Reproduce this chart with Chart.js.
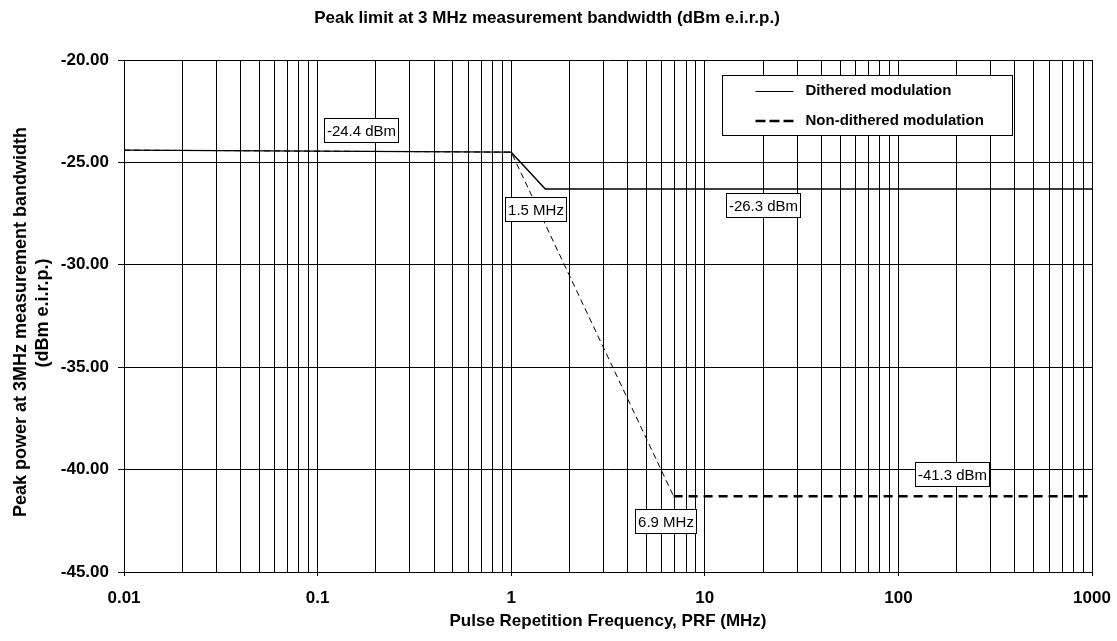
<!DOCTYPE html>
<html>
<head>
<meta charset="utf-8">
<script src="https://cdn.jsdelivr.net/npm/chart.js@4/dist/chart.umd.min.js"></script>
<style>
  html, body { margin: 0; padding: 0; background: #fff; }
  #c { display: block; }
</style>
</head>
<body>
<canvas id="c" width="1117" height="641"></canvas>
<script>
// ---- data ----
const prfDithered = [0.01, 1, 1.5, 1000];
const peakDithered = [-24.4, -24.5, -26.3, -26.3];
const prfNonDithered = [0.01, 1, 6.9, 1000];
const peakNonDithered = [-24.4, -24.5, -41.3, -41.3];

const xMajorTicks = [0.01, 0.1, 1, 10, 100, 1000];
const xTickLabels = ['0.01', '0.1', '1', '10', '100', '1000'];
const yTicks = [-45, -40, -35, -30, -25, -20];

const seriesLabels = ['Dithered modulation', 'Non-dithered modulation'];
const chartTitle = 'Peak limit at 3 MHz measurement bandwidth (dBm e.i.r.p.)';
const xTitle = 'Pulse Repetition Frequency, PRF (MHz)';
const yTitleLines = ['Peak power at 3MHz measurement bandwidth', '(dBm e.i.r.p.)'];

// callouts: text, anchored at data coordinates (x = PRF, y = dBm)
const calloutTexts = ['-24.4 dBm', '1.5 MHz', '-26.3 dBm', '6.9 MHz', '-41.3 dBm'];
const calloutX = [0.1675, 1.335, 19.9, 6.30, 189];
const calloutY = [-23.42, -27.28, -27.10, -42.49, -40.21];

// ---- build ticks ----
const xAllTicks = [];
xMajorTicks.forEach((m, i) => {
  xAllTicks.push({ value: m, major: true, label: xTickLabels[i] });
  if (i < xMajorTicks.length - 1) {
    for (let k = 2; k <= 9; k++) xAllTicks.push({ value: m * k, major: false, label: '' });
  }
});

const FONT = "'Liberation Sans', Arial, Helvetica, sans-serif";

const overlay = {
  id: 'overlay',
  afterDraw(chart) {
    const ctx = chart.ctx;
    const xs = chart.scales.x, ys = chart.scales.y;
    const area = chart.chartArea;
    ctx.save();
    ctx.fillStyle = '#000';
    // Title
    ctx.font = 'bold 17px ' + FONT;
    ctx.textAlign = 'center';
    ctx.textBaseline = 'middle';
    ctx.fillText(chartTitle, 547, 18);
    // X title
    ctx.fillText(xTitle, (area.left + area.right) / 2, 621);
    // Y title
    ctx.save();
    ctx.translate(21, 322);
    ctx.rotate(-Math.PI / 2);
    ctx.font = 'bold 18px ' + FONT;
    ctx.fillText(yTitleLines[0], 0, 0);
    ctx.restore();
    ctx.save();
    ctx.translate(43, 313);
    ctx.rotate(-Math.PI / 2);
    ctx.font = 'bold 18px ' + FONT;
    ctx.fillText(yTitleLines[1], 0, 0);
    ctx.restore();

    // Callouts
    ctx.font = '15px ' + FONT;
    calloutTexts.forEach((t, i) => {
      const cx = xs.getPixelForValue(calloutX[i]);
      const cy = ys.getPixelForValue(calloutY[i]);
      const w = Math.round(ctx.measureText(t).width + 5);
      const h = 24;
      const x0 = Math.round(cx - w / 2) + 0.5, y0 = Math.round(cy - h / 2) + 0.5;
      ctx.fillStyle = '#fff';
      ctx.fillRect(x0, y0, w, h);
      ctx.strokeStyle = '#000';
      ctx.lineWidth = 1;
      ctx.strokeRect(x0, y0, w, h);
      ctx.fillStyle = '#000';
      ctx.textAlign = 'center';
      ctx.textBaseline = 'middle';
      ctx.fillText(t, x0 + w / 2, y0 + h / 2 + 1);
    });

    // Legend
    const lx = Math.round(area.right - 370) + 0.5, ly = Math.round(area.top + 15) + 0.5, lw = 290, lh = 60;
    ctx.fillStyle = '#fff';
    ctx.fillRect(lx, ly, lw, lh);
    ctx.strokeStyle = '#000';
    ctx.lineWidth = 1;
    ctx.strokeRect(lx, ly, lw, lh);
    const ds = chart.data.datasets;
    const rows = [ly + 15.5, ly + 45.5];
    ds.forEach((d, i) => {
      ctx.save();
      ctx.strokeStyle = d.borderColor;
      ctx.lineWidth = i === 1 ? 2.5 : 1;
      ctx.setLineDash(i === 1 ? [10, 4] : []);
      ctx.beginPath();
      const yy = i === 1 ? rows[i] : Math.round(rows[i]) + 0.5;
      ctx.moveTo(lx + 33, yy);
      ctx.lineTo(lx + 71, yy);
      ctx.stroke();
      ctx.restore();
      ctx.fillStyle = '#000';
      ctx.font = 'bold 15px ' + FONT;
      ctx.textAlign = 'left';
      ctx.textBaseline = 'middle';
      ctx.fillText(d.label, lx + 83, rows[i]);
    });
    ctx.restore();
  }
};

const chart = new Chart(document.getElementById('c'), {
  type: 'line',
  data: {
    datasets: [
      {
        label: seriesLabels[0],
        data: prfDithered.map((x, i) => ({ x, y: peakDithered[i] })),
        borderColor: '#000',
        borderWidth: 1.4,
        pointRadius: 0,
        tension: 0,
        fill: false
      },
      {
        label: seriesLabels[1],
        data: prfNonDithered.map((x, i) => ({ x, y: peakNonDithered[i] })),
        borderColor: '#000',
        borderWidth: 2.5,
        borderDash: [9, 6],
        pointRadius: 0,
        tension: 0,
        fill: false,
        segment: {
          borderWidth: c => (c.p1DataIndex < 3 ? 1 : undefined),
          borderDash: c => (c.p1DataIndex < 3 ? [6, 4] : undefined)
        }
      }
    ]
  },
  options: {
    responsive: false,
    animation: false,
    events: [],
    layout: { padding: { left: 0, top: 60, right: 25, bottom: 0 } },
    plugins: { legend: { display: false }, title: { display: false }, tooltip: { enabled: false } },
    scales: {
      x: {
        type: 'logarithmic',
        min: 0.01,
        max: 1000,
        afterBuildTicks: s => { s.ticks = xAllTicks.map(t => ({ value: t.value, major: t.major, label: t.label })); },
        afterFit: s => { s.height = 69; s.paddingLeft = 0; s.paddingRight = 0; },
        ticks: {
          autoSkip: false,
          maxRotation: 0,
          minRotation: 0,
          padding: 12,
          color: '#000',
          font: { family: FONT, size: 17, weight: 'bold' },
          callback: function (v, i) { return xAllTicks[i] ? xAllTicks[i].label : ''; }
        },
        grid: {
          color: '#000',
          lineWidth: 1,
          tickLength: 4,
          tickColor: c => (c.tick && xAllTicks[c.index] && xAllTicks[c.index].major ? '#000' : 'rgba(0,0,0,0)')
        },
        border: { display: true, color: '#000', width: 1 }
      },
      y: {
        type: 'linear',
        min: -45,
        max: -20,
        afterBuildTicks: s => { s.ticks = yTicks.map(v => ({ value: v })); },
        afterFit: s => { s.width = 124; s.paddingTop = 0; s.paddingBottom = 0; },
        ticks: {
          padding: 9,
          color: '#000',
          font: { family: FONT, size: 17, weight: 'bold' },
          callback: v => Number(v).toFixed(2)
        },
        grid: { color: '#000', lineWidth: 1, tickLength: 6, tickColor: '#000' },
        border: { display: true, color: '#000', width: 1 }
      }
    }
  },
  plugins: [overlay]
});
</script>
</body>
</html>
